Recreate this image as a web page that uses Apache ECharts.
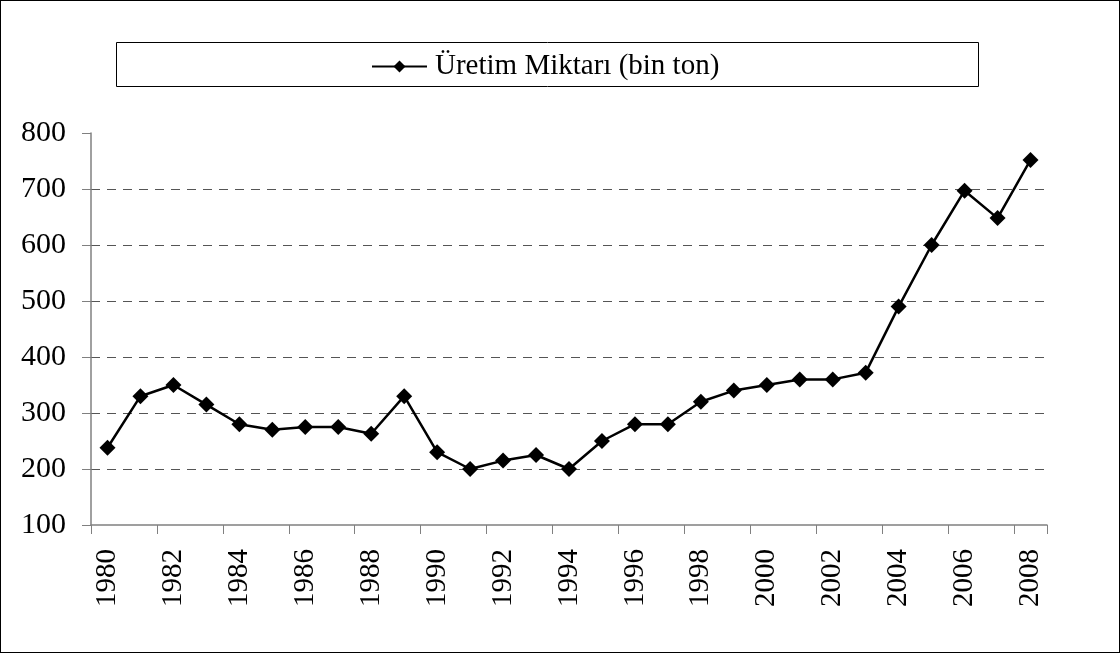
<!DOCTYPE html>
<html>
<head>
<meta charset="utf-8">
<script src="https://cdn.jsdelivr.net/npm/echarts@6/dist/echarts.min.js"></script>
<style>
  html, body { margin: 0; padding: 0; background: #fff; }
  #chart {
    width: 1120px;
    height: 653px;
    box-sizing: border-box;
    border: 1px solid #000;
  }
</style>
</head>
<body>
<div id="chart"></div>
<script>
const years = [
  "1980", "1981", "1982", "1983", "1984", "1985", "1986", "1987", "1988", "1989",
  "1990", "1991", "1992", "1993", "1994", "1995", "1996", "1997", "1998", "1999",
  "2000", "2001", "2002", "2003", "2004", "2005", "2006", "2007", "2008"
];
const production = [
  238, 330, 350, 315, 280, 270, 275, 275, 263, 330,
  230, 200, 215, 225, 200, 250, 280, 280, 320, 340,
  350, 360, 360, 372, 490, 600, 697, 648, 752
];
const seriesName = "Üretim Miktarı (bin ton)";

let chart = echarts.init(document.getElementById("chart"));
const font = "Liberation Serif";

let option = {
  backgroundColor: "#fff",
  animation: false,
  textStyle: { fontFamily: font },
  // legend frame
  graphic: [
    {
      type: "rect",
      left: 113,
      top: 39,
      shape: { width: 862, height: 44 },
      style: { fill: "none", stroke: "#000", lineWidth: 1 },
    },
  ],
  legend: {
    top: 46,
    left: 365,
    itemWidth: 55,
    itemHeight: 15,
    textStyle: { fontFamily: font, fontSize: 29, color: "#000", padding: [0, 0, 0, 3] },
    data: [seriesName],
  },
  grid: {
    left: 90,
    right: 72,
    top: 132,
    bottom: 127,
  },
  xAxis: {
    type: "category",
    data: years,
    boundaryGap: true,
    axisLine: { lineStyle: { color: "#808080", width: 1.5 } },
    axisTick: { show: true, length: 9, lineStyle: { color: "#808080" } },
    axisLabel: {
      interval: 1,
      rotate: 90,
      margin: 24,
      fontFamily: font,
      fontSize: 29,
      color: "#000",
    },
  },
  yAxis: {
    type: "value",
    min: 100,
    max: 800,
    interval: 100,
    axisLine: { show: true, lineStyle: { color: "#808080", width: 1.5 } },
    axisTick: { show: true, length: 9, lineStyle: { color: "#808080" } },
    axisLabel: {
      margin: 25,
      fontFamily: font,
      fontSize: 30,
      color: "#000",
    },
    splitLine: {
      show: true,
      showMinLine: false,
      showMaxLine: false,
      lineStyle: { color: "#555", type: [9, 7], width: 1 },
    },
  },
  series: [
    {
      name: seriesName,
      type: "line",
      data: production,
      symbol: "diamond",
      symbolSize: 16,
      color: "#000",
      lineStyle: { color: "#000", width: 2.5 },
      itemStyle: { color: "#000" },
    },
  ],
};
chart.setOption(option);
</script>
</body>
</html>
